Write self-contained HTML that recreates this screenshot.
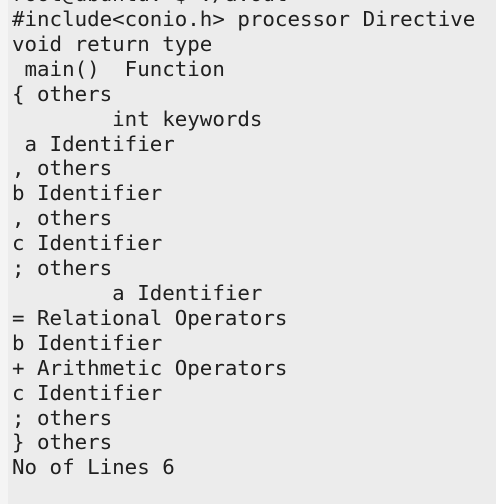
<!DOCTYPE html>
<html><head><style>
html,body{margin:0;padding:0;}
body{width:496px;height:497px;overflow:hidden;background:#ececec;position:relative;}
.l{position:absolute;left:0;top:-6px;width:8px;height:510px;background:#f4f4f4;}
pre{position:absolute;left:12px;top:7px;margin:0;font-family:"DejaVu Sans Mono","Liberation Mono",monospace;font-size:20.8px;line-height:24.9px;color:#202020;}
</style></head><body>
<div class="l"></div>
<pre style="top:-18px">root@ubuntu:~$ ./a.out</pre>
<pre>#include&lt;conio.h&gt; processor Directive
void return type
 main()  Function
{ others
        int keywords
 a Identifier
, others
b Identifier
, others
c Identifier
; others
        a Identifier
= Relational Operators
b Identifier
+ Arithmetic Operators
c Identifier
; others
} others
No of Lines 6</pre>
</body></html>
